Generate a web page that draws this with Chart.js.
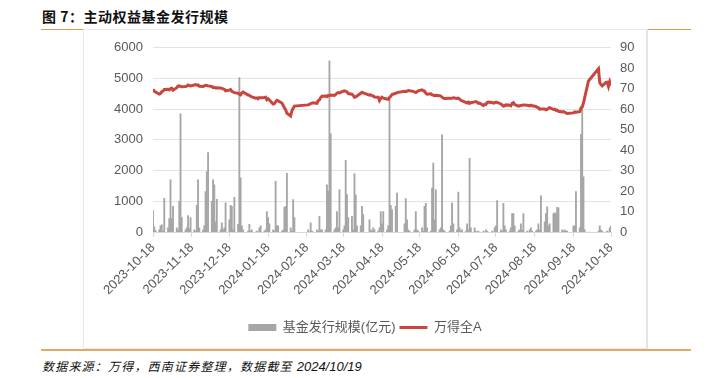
<!DOCTYPE html>
<html>
<head>
<meta charset="utf-8">
<script src="https://cdn.jsdelivr.net/npm/chart.js@4.4.1/dist/chart.umd.min.js"></script>
<style>
  body { margin: 0; width: 721px; height: 378px; background: #fff; position: relative; overflow: hidden; }
  #title { position: absolute; left: 42px; top: 6px; font: bold 14px "Noto Sans CJK SC", sans-serif; color: #111; letter-spacing: 0.5px; }
  #topLine { position: absolute; left: 41px; top: 29px; width: 650px; height: 1px; background: #d69a4e; }
  #box { position: absolute; left: 83px; top: 29px; width: 562px; height: 318px; border: 1px solid #e8e8e8; border-right: 2px solid #e4e4e4; background: #fff; }
  #bottomLine { position: absolute; left: 41px; top: 349px; width: 650px; height: 2px; background: #dcab6b; }
  #source { position: absolute; left: 42px; top: 357px; font: italic 12px "Noto Sans CJK SC", sans-serif; color: #111; letter-spacing: 1.2px; }
  #source span { font: italic 13px "Liberation Sans", sans-serif; letter-spacing: 0; }
  #wrap { position: absolute; left: 84px; top: 30px; width: 562px; height: 317px; }
</style>
</head>
<body>
<div id="title">图 7：主动权益基金发行规模</div>
<div id="topLine"></div>
<div id="box"></div>
<div id="bottomLine"></div>
<div id="wrap"><canvas id="chart" width="562" height="317"></canvas></div>
<div id="source">数据来源：万得，西南证券整理，数据截至 <span>2024/10/19</span></div>
<script>
// trading days
const tradeDays = [
  '2023-10-18','2023-10-19','2023-10-20','2023-10-23','2023-10-24','2023-10-25','2023-10-26','2023-10-27','2023-10-30','2023-10-31',
  '2023-11-01','2023-11-02','2023-11-03','2023-11-06','2023-11-07','2023-11-08','2023-11-09','2023-11-10','2023-11-13','2023-11-14','2023-11-15','2023-11-16','2023-11-17','2023-11-20','2023-11-21','2023-11-22','2023-11-23','2023-11-24','2023-11-27','2023-11-28','2023-11-29','2023-11-30',
  '2023-12-01','2023-12-04','2023-12-05','2023-12-06','2023-12-07','2023-12-08','2023-12-11','2023-12-12','2023-12-13','2023-12-14','2023-12-15','2023-12-18','2023-12-19','2023-12-20','2023-12-21','2023-12-22','2023-12-25','2023-12-26','2023-12-27','2023-12-28','2023-12-29',
  '2024-01-02','2024-01-03','2024-01-04','2024-01-05','2024-01-08','2024-01-09','2024-01-10','2024-01-11','2024-01-12','2024-01-15','2024-01-16','2024-01-17','2024-01-18','2024-01-19','2024-01-22','2024-01-23','2024-01-24','2024-01-25','2024-01-26','2024-01-29','2024-01-30','2024-01-31',
  '2024-02-01','2024-02-02','2024-02-05','2024-02-06','2024-02-07','2024-02-08','2024-02-19','2024-02-20','2024-02-21','2024-02-22','2024-02-23','2024-02-26','2024-02-27','2024-02-28','2024-02-29',
  '2024-03-01','2024-03-04','2024-03-05','2024-03-06','2024-03-07','2024-03-08','2024-03-11','2024-03-12','2024-03-13','2024-03-14','2024-03-15','2024-03-18','2024-03-19','2024-03-20','2024-03-21','2024-03-22','2024-03-25','2024-03-26','2024-03-27','2024-03-28','2024-03-29',
  '2024-04-01','2024-04-02','2024-04-03','2024-04-08','2024-04-09','2024-04-10','2024-04-11','2024-04-12','2024-04-15','2024-04-16','2024-04-17','2024-04-18','2024-04-19','2024-04-22','2024-04-23','2024-04-24','2024-04-25','2024-04-26','2024-04-29','2024-04-30',
  '2024-05-06','2024-05-07','2024-05-08','2024-05-09','2024-05-10','2024-05-13','2024-05-14','2024-05-15','2024-05-16','2024-05-17','2024-05-20','2024-05-21','2024-05-22','2024-05-23','2024-05-24','2024-05-27','2024-05-28','2024-05-29','2024-05-30','2024-05-31',
  '2024-06-03','2024-06-04','2024-06-05','2024-06-06','2024-06-07','2024-06-11','2024-06-12','2024-06-13','2024-06-14','2024-06-17','2024-06-18','2024-06-19','2024-06-20','2024-06-21','2024-06-24','2024-06-25','2024-06-26','2024-06-27','2024-06-28',
  '2024-07-01','2024-07-02','2024-07-03','2024-07-04','2024-07-05','2024-07-08','2024-07-09','2024-07-10','2024-07-11','2024-07-12','2024-07-15','2024-07-16','2024-07-17','2024-07-18','2024-07-19','2024-07-22','2024-07-23','2024-07-24','2024-07-25','2024-07-26','2024-07-29','2024-07-30','2024-07-31',
  '2024-08-01','2024-08-02','2024-08-05','2024-08-06','2024-08-07','2024-08-08','2024-08-09','2024-08-12','2024-08-13','2024-08-14','2024-08-15','2024-08-16','2024-08-19','2024-08-20','2024-08-21','2024-08-22','2024-08-23','2024-08-26','2024-08-27','2024-08-28','2024-08-29','2024-08-30',
  '2024-09-02','2024-09-03','2024-09-04','2024-09-05','2024-09-06','2024-09-09','2024-09-10','2024-09-11','2024-09-12','2024-09-13','2024-09-18','2024-09-19','2024-09-20','2024-09-23','2024-09-24','2024-09-25','2024-09-26','2024-09-27','2024-09-30',
  '2024-10-08','2024-10-09','2024-10-10','2024-10-11','2024-10-14','2024-10-15','2024-10-16','2024-10-17','2024-10-18'
];

// 万得全A (left axis)
const windA = [
  4650,4590,4560,4490,4510,4570,4590,4640,4650,4630,
  4670,4680,4620,4700,4750,4760,4740,4730,4740,4750,4790,4770,4760,4790,4800,4780,4790,4750,4740,4760,4780,4770,
  4760,4740,4700,4710,4690,4700,4690,4680,4660,4650,4600,4620,4640,4580,4560,4540,4520,4490,4470,4530,4560,
  4460,4450,4420,4400,4360,4370,4340,4380,4370,4380,4390,4310,4340,4300,4170,4180,4240,4290,4270,4200,4130,4050,
  3980,3870,3780,3950,4030,4100,4140,4160,4180,4200,4210,4190,4280,4300,4380,
  4420,4430,4410,4450,4440,4460,4450,4480,4520,4540,4530,4590,4600,4580,4570,4510,4490,4450,4390,4400,4430,
  4520,4550,4530,4460,4470,4440,4430,4400,4390,4280,4350,4390,4360,4330,4320,4380,4420,4480,4520,4540,
  4580,4570,4590,4610,4600,4580,4560,4540,4570,4600,4630,4600,4590,4520,4490,4500,4470,4460,4440,4450,
  4440,4430,4390,4360,4350,4360,4350,4360,4370,4350,4360,4330,4290,4270,4220,4200,4230,4190,4210,
  4240,4250,4230,4190,4200,4120,4160,4150,4220,4230,4220,4200,4210,4230,4220,4170,4140,4100,4110,4140,4130,4110,4190,
  4210,4150,4100,4110,4120,4130,4140,4130,4120,4110,4130,4110,4090,4060,4050,4000,4010,4010,3980,3990,4030,4050,
  3990,4000,3960,3970,3930,3910,3920,3900,3880,3860,3880,3910,3900,3920,4040,4070,4200,4380,4920,
  5320,4870,4800,4760,4870,4880,4740,4890,4770
];

// 基金发行规模(亿元) (right axis)
const fundIssue = [
  10.5,2.5,0.8,1,3,3.5,0.5,16.5,2,6.5,
  25.5,6.5,12.6,2,1,15,57.7,7,1,2,8,1.5,7,1,0.5,13,25.5,2,1,3,19.8,29.5,
  38.8,15,25.5,23,5,16,1,4.5,1,2,14.2,6,13,12.6,1,17,3.7,75.5,26.5,3,1,
  0.5,3.7,0.5,1,0,0.5,0,2,3,0.5,1,10,7,4,1,0.5,24.7,3,3,0.5,1,12,
  12.6,28.7,2,0.5,15.8,7,1,0,4.5,0.5,0,1,0.5,7.7,1,
  1,1,23,20,83.6,48,1,2,10,2,20.6,1,3,35,18.3,7,7.7,1,28.5,18.2,3,
  3,12.6,8.5,6,1,0.5,2,1,0.5,2,10,4,10,1,3,65,13,11,12.6,19,
  4,16.3,6,1,0.5,0,1,10,1,0.5,2,0.5,12.6,14,2,0.5,21.4,33.7,6,20.6,
  1,2,47.5,1,0.5,0.5,3,14.2,4,1,19.5,2,0.5,1,0.5,4,1,36,2,
  2,0.5,0,0.5,0,0.5,0,1,0.5,0,0.5,0,2,3,15.3,1,0.5,14,3,1,0.5,2,9,
  9,3,0.5,1,4,1,9,0.5,0,1,2,0.5,0.5,1,4,1,17.7,5,9,12.3,3,4,
  9,9.4,9,12,11.8,1,0.5,1,0.5,0.5,3,3,19.8,2,47.7,60,27,1,0,
  0.5,3,1,0.5,0,0.5,0,2,3
];

const tickLabels = ['2023-10-18','2023-11-18','2023-12-18','2024-01-18','2024-02-18','2024-03-18','2024-04-18',
  '2024-05-18','2024-06-18','2024-07-18','2024-08-18','2024-09-18','2024-10-18'];

const startDay = Date.UTC(2023, 9, 18);
function dayOffset(s) {
  const p = s.split('-').map(Number);
  return Math.round((Date.UTC(p[0], p[1] - 1, p[2]) - startDay) / 86400000);
}
const xs = tradeDays.map(dayOffset);
const tickDays = tickLabels.map(dayOffset);

const gray = '#595959';
const fontFamily = '"Liberation Sans", "Noto Sans CJK SC", sans-serif';

new Chart(document.getElementById('chart'), {
  type: 'bar',
  data: {
    datasets: [{
      label: '基金发行规模(亿元)',
      data: xs.map((x, i) => ({ x: x, y: fundIssue[i] })),
      backgroundColor: '#a6a6a6',
      barThickness: 1.2,
      yAxisID: 'y1',
      pointStyle: 'rect',
      order: 1
    }, {
      type: 'line',
      label: '万得全A',
      data: xs.map((x, i) => ({ x: x, y: windA[i] })),
      borderColor: '#c8463d',
      backgroundColor: '#c8463d',
      borderWidth: 3,
      pointRadius: 0,
      pointStyle: 'line',
      tension: 0,
      yAxisID: 'y',
      order: 0
    }]
  },
  options: {
    responsive: false,
    animation: false,
    devicePixelRatio: 1,
    layout: { padding: { top: 6, bottom: 3, left: 0, right: 0 } },
    plugins: {
      tooltip: { enabled: false },
      legend: {
        position: 'bottom',
        labels: {
          usePointStyle: true,
          pointStyleWidth: 28,
          boxHeight: 7,
          padding: 4,
          color: gray,
          font: { size: 13, family: fontFamily },
          sort: (a, b) => a.datasetIndex - b.datasetIndex
        }
      }
    },
    scales: {
      x: {
        type: 'linear',
        min: 0,
        max: tickDays[tickDays.length - 1],
        offset: false,
        afterBuildTicks: (s) => { s.ticks = tickDays.map(v => ({ value: v })); },
        afterFit: (s) => { s.height = 85; },
        ticks: {
          autoSkip: false,
          maxRotation: 45,
          minRotation: 45,
          color: gray,
          font: { size: 13, family: fontFamily },
          callback: (v) => { const i = tickDays.indexOf(v); return i >= 0 ? tickLabels[i] : ''; }
        },
        grid: { drawOnChartArea: false, offset: false, tickLength: 5, color: '#d9d9d9' },
        border: { color: '#d9d9d9' }
      },
      y: {
        position: 'left',
        min: 0,
        max: 6000,
        afterFit: (s) => { s.width = 69; },
        ticks: { stepSize: 1000, padding: 10, color: gray, font: { size: 13, family: fontFamily }, callback: (v) => String(v) },
        grid: { color: '#e3e3e3', drawTicks: false },
        border: { display: false }
      },
      y1: {
        position: 'right',
        min: 0,
        max: 90,
        afterFit: (s) => { s.width = 35; },
        ticks: { stepSize: 10, padding: 9, color: gray, font: { size: 13, family: fontFamily } },
        grid: { display: false, drawTicks: false },
        border: { display: false }
      }
    }
  }
});
</script>
</body>
</html>
